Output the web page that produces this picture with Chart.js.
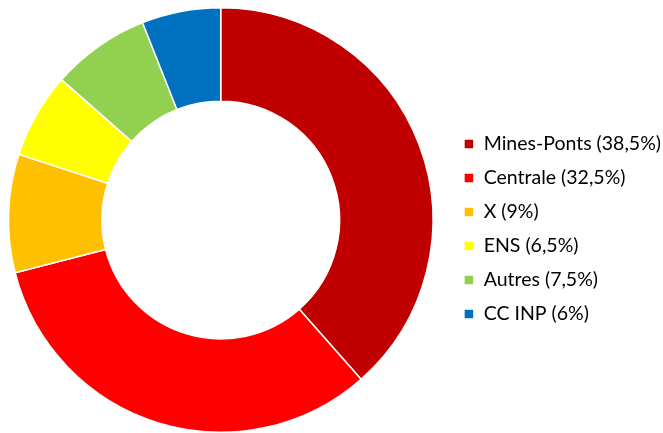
<!DOCTYPE html>
<html>
<head>
<meta charset="utf-8">
<script src="https://cdn.jsdelivr.net/npm/chart.js@4"></script>
<style>
  html, body { margin: 0; padding: 0; background: #fff; }
  #wrap { width: 663px; height: 433px; position: relative; overflow: hidden; }
  #inner { position: absolute; left: -8px; top: 0; width: 679px; height: 433px; }
</style>
</head>
<body>
<div id="wrap"><div id="inner"><canvas id="ecoles"></canvas></div></div>
<script>
// Répartition des intégrés par concours
const ecoles = ['Mines-Ponts', 'Centrale', 'X', 'ENS', 'Autres', 'CC INP'];
const parts = [38.5, 32.5, 9, 6.5, 7.5, 6];
const partLabels = ['38,5%', '32,5%', '9%', '6,5%', '7,5%', '6%'];
const couleurs = ['#C00000', '#FF0000', '#FFC000', '#FFFF00', '#92D050', '#0070C0'];

new Chart(document.getElementById('ecoles'), {
    type: 'doughnut',
    data: {
        labels: ecoles.map((e, i) => `${e} (${partLabels[i]})`),
        datasets: [{ data: parts, backgroundColor: couleurs, borderColor: '#fff', borderWidth: 1.5 }]
    },
    options: {
        responsive: true,
        maintainAspectRatio: false,
        animation: false,
        cutout: '56%',
        layout: { padding: { top: 7, bottom: 0, left: 0, right: 0 } },
        plugins: {
            tooltip: { enabled: false },
            legend: {
                position: 'right',
                // titre vide : décale les entrées vers le bas
                title: { display: true, text: '', font: { size: 18, lineHeight: 1 }, padding: 0 },
                labels: {
                    boxWidth: 10,
                    boxHeight: 10,
                    padding: 14.5,
                    color: '#000',
                    font: { family: 'Lato', size: 19.5 }
                }
            }
        }
    }
});
</script>
</body>
</html>
